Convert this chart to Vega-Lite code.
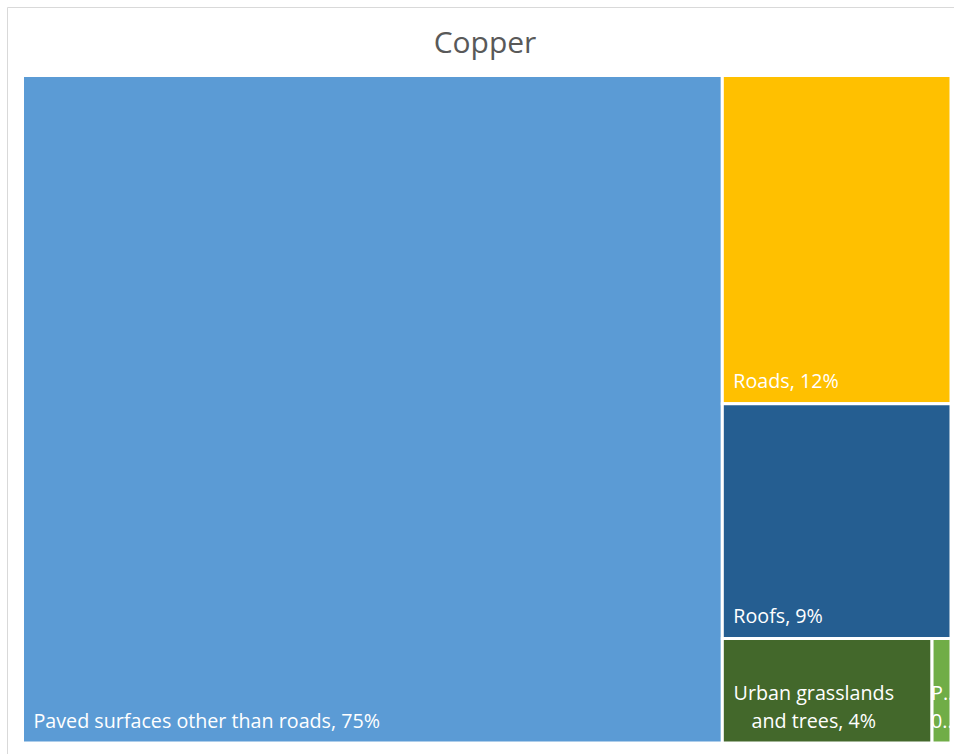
{
  "$schema": "https://vega.github.io/schema/vega-lite/v6.json",
  "width": 947,
  "height": 747,
  "autosize": {"type": "none"},
  "padding": {"left": 7, "top": 7, "right": 0, "bottom": 0},
  "background": "white",
  "config": {
    "view": {"stroke": "#d9d9d9", "strokeWidth": 1},
    "font": "Open Sans"
  },
  "title": {
    "text": "Copper",
    "font": "Open Sans",
    "fontSize": 30,
    "fontWeight": "normal",
    "color": "#595959",
    "anchor": "middle",
    "baseline": "alphabetic",
    "offset": -76,
    "dx": 4.5
  },
  "data": {
    "values": [
      {"name": "Paved surfaces other than roads", "value": 75.37, "column": 1, "cell": "Paved", "label": "Paved surfaces other than roads, 75%"},
      {"name": "Roads", "value": 12.11, "column": 2, "cell": "Roads", "label": "Roads, 12%"},
      {"name": "Roofs", "value": 8.66, "column": 2, "cell": "Roofs", "label": "Roofs, 9%"},
      {"name": "Urban grasslands and trees", "value": 3.54, "column": 2, "cell": "Bottom", "label": "Urban grasslands\nand trees, 4%"},
      {"name": "P..", "value": 0.32, "column": 2, "cell": "Bottom", "label": "P..\n0.."}
    ]
  },
  "transform": [
    {"joinaggregate": [{"op": "sum", "field": "value", "as": "total"}]},
    {"joinaggregate": [{"op": "sum", "field": "value", "as": "colSum"}], "groupby": ["column"]},
    {"joinaggregate": [{"op": "sum", "field": "value", "as": "cellSum"}], "groupby": ["cell"]},
    {"window": [{"op": "sum", "field": "value", "as": "colCum"}], "sort": [{"field": "value", "order": "descending"}], "groupby": ["column"], "frame": [null, 0]},
    {"window": [{"op": "sum", "field": "value", "as": "cellCum"}], "sort": [{"field": "value", "order": "descending"}], "groupby": ["cell"], "frame": [null, 0]},
    {"calculate": "datum.column == 1 ? 0 : 1 - datum.colSum / datum.total", "as": "cx0"},
    {"calculate": "datum.column == 1 ? datum.colSum / datum.total : 1", "as": "cx1"},
    {"calculate": "(datum.colCum - datum.cellCum) / datum.colSum", "as": "y0"},
    {"calculate": "(datum.colCum - datum.cellCum + datum.cellSum) / datum.colSum", "as": "y1"},
    {"calculate": "datum.cx0 + (datum.cellCum - datum.value) / datum.cellSum * (datum.cx1 - datum.cx0)", "as": "x0"},
    {"calculate": "datum.cx0 + datum.cellCum / datum.cellSum * (datum.cx1 - datum.cx0)", "as": "x1"}
  ],
  "encoding": {
    "x": {"field": "x0", "type": "quantitative", "axis": null, "scale": {"domain": [0, 1], "range": [15.5, 944], "nice": false, "zero": false}},
    "y": {"field": "y1", "type": "quantitative", "axis": null, "scale": {"domain": [0, 1], "range": [68.5, 736], "nice": false, "zero": false}}
  },
  "layer": [
    {
      "mark": {"type": "rect", "stroke": "white", "strokeWidth": 3},
      "encoding": {
        "x": {"field": "x0", "type": "quantitative"},
        "x2": {"field": "x1"},
        "y": {"field": "y0", "type": "quantitative"},
        "y2": {"field": "y1"},
        "color": {
          "field": "name",
          "type": "nominal",
          "legend": null,
          "scale": {
            "domain": ["Paved surfaces other than roads", "Roads", "Roofs", "Urban grasslands and trees", "P.."],
            "range": ["#5B9BD5", "#FFC000", "#255E91", "#43682B", "#70AD47"]
          }
        }
      }
    },
    {
      "transform": [{"filter": "datum.cell != 'Bottom'"}],
      "mark": {"type": "text", "align": "left", "baseline": "alphabetic", "dx": 11, "dy": -15.5, "font": "Open Sans", "fontSize": 19.7, "color": "white"},
      "encoding": {"text": {"field": "label"}}
    },
    {
      "transform": [{"filter": "datum.name == 'Urban grasslands and trees'"}],
      "mark": {"type": "text", "align": "center", "baseline": "alphabetic", "lineBreak": "\n", "lineHeight": 28, "dx": 91.5, "dy": -43, "font": "Open Sans", "fontSize": 19.7, "color": "white"},
      "encoding": {"text": {"field": "label"}}
    },
    {
      "transform": [{"filter": "datum.name == 'P..'"}],
      "mark": {"type": "text", "align": "left", "baseline": "alphabetic", "lineBreak": "\n", "lineHeight": 28, "dx": -1, "dy": -43, "font": "Open Sans", "fontSize": 19.7, "color": "white"},
      "encoding": {"text": {"field": "label"}}
    }
  ]
}
